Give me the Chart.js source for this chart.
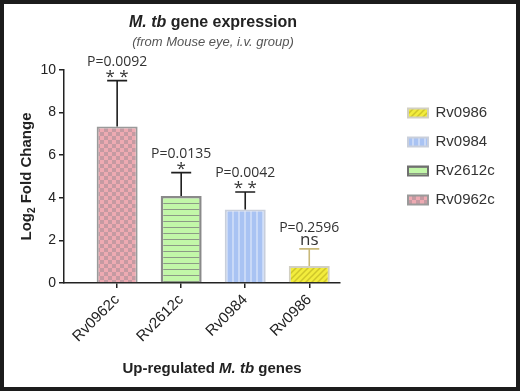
<!DOCTYPE html>
<html>
<head>
<meta charset="utf-8">
<script src="https://cdn.jsdelivr.net/npm/chart.js@4.4.1/dist/chart.umd.min.js"></script>
<style>
  html, body { margin: 0; padding: 0; background: #fff; }
  canvas { display: block; }
</style>
</head>
<body>
<canvas id="mycanvas" width="520" height="391"></canvas>
<script>
// data
var genes = ['Rv0962c', 'Rv2612c', 'Rv0984', 'Rv0986'];
var foldChange = [7.35, 4.08, 3.45, 0.8];
var errorSD = [2.15, 1.1, 0.82, 0.8];
var pLabels = ['P=0.0092', 'P=0.0135', 'P=0.0042', 'P=0.2596'];
var sigLabels = ['* *', '*', '* *', 'ns'];
var yTicks = [0, 2, 4, 6, 8, 10];

var sans = '"Liberation Sans", Arial, sans-serif';

// fill patterns for the bars
function makePattern(kind) {
  var c = document.createElement('canvas');
  var g = c.getContext('2d');
  if (kind == 'checker') {
    c.width = 8; c.height = 8;
    g.fillStyle = '#eeaab2'; g.fillRect(0, 0, 8, 8);
    g.fillStyle = '#c59aa2';
    g.fillRect(0, 0, 4, 4); g.fillRect(4, 4, 4, 4);
  } else if (kind == 'hlines') {
    c.width = 6; c.height = 6;
    g.fillStyle = '#c2f7a8'; g.fillRect(0, 0, 6, 6);
    g.fillStyle = '#8c9a86'; g.fillRect(0, 5, 6, 1);
  } else if (kind == 'vlines') {
    c.width = 6; c.height = 6;
    g.fillStyle = '#a9c3f3'; g.fillRect(0, 0, 6, 6);
    g.fillStyle = '#c9d9f7'; g.fillRect(4, 0, 2, 6);
  } else {
    c.width = 6; c.height = 6;
    g.fillStyle = '#f2ec3c'; g.fillRect(0, 0, 6, 6);
    g.strokeStyle = '#cfc62a'; g.lineWidth = 1.5;
    g.beginPath();
    g.moveTo(-1, 7); g.lineTo(7, -1);
    g.moveTo(5, 7); g.lineTo(7, 5);
    g.moveTo(-1, 1); g.lineTo(1, -1);
    g.stroke();
  }
  return g.createPattern(c, 'repeat');
}

var ctx = document.getElementById('mycanvas').getContext('2d');
var fills = [makePattern('checker'), makePattern('hlines'), makePattern('vlines'), makePattern('hatch')];
var borders = ['#9a9a9a', '#8a8a8a', '#c9cfdb', '#d2d0c2'];
var borderW = [2, 2.5, 2, 2];
var errColors = ['#1e1e1e', '#1e1e1e', '#1e1e1e', '#c9b97a'];

function drawRich(c, parts, cx, cy) {
  var total = 0;
  parts.forEach(function(p) { c.font = p.font; total += c.measureText(p.text).width; });
  var x = cx - total / 2;
  c.textAlign = 'left';
  c.textBaseline = 'middle';
  parts.forEach(function(p) {
    c.font = p.font;
    c.fillStyle = p.color;
    c.fillText(p.text, x, cy + (p.dy || 0));
    x += c.measureText(p.text).width;
  });
}

var extras = {
  id: 'extras',
  beforeInit: function(chart) {
    // legend keeps its full width next to the spacer axis
    var lg = chart.legend;
    var fit = lg.fit;
    lg.fit = function() {
      fit.call(this);
      this.width = 116;
    };
  },
  afterDatasetsDraw: function(chart) {
    var c = chart.ctx, x = chart.scales.x, y = chart.scales.y;
    c.save();
    for (var i = 0; i < genes.length; i++) {
      var px = x.getPixelForValue(i);
      var top = y.getPixelForValue(foldChange[i]);
      var cap = y.getPixelForValue(foldChange[i] + errorSD[i]);
      c.strokeStyle = errColors[i];
      c.lineWidth = 1.6;
      c.beginPath();
      c.moveTo(px, top); c.lineTo(px, cap);
      c.moveTo(px - 10, cap); c.lineTo(px + 10, cap);
      c.stroke();
      c.fillStyle = '#333';
      c.textAlign = 'center';
      if (sigLabels[i] == 'ns') {
        c.font = '17px "Open Sans", sans-serif';
        c.textBaseline = 'alphabetic';
        c.fillText(sigLabels[i], px, cap - 4);
        c.textBaseline = 'bottom';
        c.font = '14px "Open Sans", sans-serif';
        c.fillText(pLabels[i], px, cap - 14);
      } else {
        c.font = '17px "Open Sans", sans-serif';
        c.textBaseline = 'bottom';
        c.fillText(sigLabels[i], px, cap + 5);
        c.font = '14px "Open Sans", sans-serif';
        c.fillText(pLabels[i], px, cap - 12);
      }
    }
    c.restore();
  },
  afterDraw: function(chart) {
    var c = chart.ctx, a = chart.chartArea;
    var cx = (a.left + a.right) / 2 + 11;
    c.save();
    drawRich(c, [
      { text: 'M. tb', font: 'italic bold 16px ' + sans, color: '#222' },
      { text: ' gene expression', font: 'bold 16px ' + sans, color: '#222' }
    ], cx, 23);
    drawRich(c, [
      { text: '(from Mouse eye, i.v. group)', font: 'italic 13px ' + sans, color: '#555' }
    ], cx, 42);
    drawRich(c, [
      { text: 'Up-regulated ', font: 'bold 15px ' + sans, color: '#222' },
      { text: 'M. tb', font: 'italic bold 15px ' + sans, color: '#222' },
      { text: ' genes', font: 'bold 15px ' + sans, color: '#222' }
    ], cx - 1, 369);
    // y axis title, rotated
    c.translate(27, (a.top + a.bottom) / 2);
    c.rotate(-Math.PI / 2);
    drawRich(c, [
      { text: 'Log', font: 'bold 15px ' + sans, color: '#222' },
      { text: '2', font: 'bold 10px ' + sans, color: '#222', dy: 5 },
      { text: ' Fold Change', font: 'bold 15px ' + sans, color: '#222' }
    ], 0, 0);
    c.restore();
    c.save();
    c.strokeStyle = '#1c1c1c';
    c.lineWidth = 4;
    c.strokeRect(2, 2, 516, 387);
    c.restore();
  }
};

var chartdata = {
  datasets: [{
    label: 'fold change',
    data: genes.map(function(g, i) { return { x: i, y: foldChange[i] }; }),
    backgroundColor: fills,
    borderColor: borders,
    borderWidth: borderW,
    borderSkipped: 'bottom',
    barPercentage: 0.8,
    categoryPercentage: 0.8
  }]
};

var myChart = new Chart(ctx, {
  type: 'bar',
  data: chartdata,
  plugins: [extras],
  options: {
    responsive: false,
    animation: false,
    devicePixelRatio: 1,
    layout: { padding: { top: 70, left: 24, right: 10, bottom: 0 } },
    plugins: {
      tooltip: { enabled: false },
      legend: {
        position: 'right',
        align: 'start',
        title: { display: true, text: '', font: { size: 12 }, padding: { top: 7, bottom: 0 } },
        labels: {
          boxWidth: 20,
          boxHeight: 9,
          padding: 14,
          color: '#333',
          font: { family: sans, size: 15 },
          generateLabels: function() {
            var items = [];
            for (var i = genes.length - 1; i >= 0; i--) {
              items.push({
                text: genes[i],
                fillStyle: fills[i],
                strokeStyle: i == 1 ? '#6f6f6f' : borders[i],
                lineWidth: 2,
                fontColor: '#333',
                datasetIndex: 0,
                index: i
              });
            }
            return items;
          }
        }
      }
    },
    scales: {
      x: {
        type: 'linear',
        offset: false,
        min: -0.83,
        max: 3.48,
        afterBuildTicks: function(s) {
          s.ticks = genes.map(function(g, i) { return { value: i }; });
        },
        afterFit: function(s) { s.height = 108; },
        ticks: {
          autoSkip: false,
          minRotation: 45,
          maxRotation: 45,
          padding: 3,
          color: '#222',
          font: { family: sans, size: 15 },
          callback: function(v) { return genes[v]; }
        },
        grid: { offset: false, drawOnChartArea: false, tickLength: 5, color: '#222', lineWidth: 1.5 },
        border: { color: '#222', width: 1.5 }
      },
      y: {
        min: 0,
        max: 10,
        afterBuildTicks: function(s) {
          s.ticks = yTicks.map(function(v) { return { value: v }; });
        },
        afterFit: function(s) { s.width = 40; },
        ticks: { color: '#222', padding: 3, font: { family: sans, size: 14 } },
        grid: { drawOnChartArea: false, tickLength: 5, color: '#222', lineWidth: 1.5 },
        border: { color: '#222', width: 1.5 }
      },
      gap: {
        type: 'linear',
        position: 'right',
        display: true,
        grid: { display: false },
        ticks: { display: false },
        border: { display: false },
        afterFit: function(s) { s.width = 54; }
      }
    }
  }
});
</script>
</body>
</html>
